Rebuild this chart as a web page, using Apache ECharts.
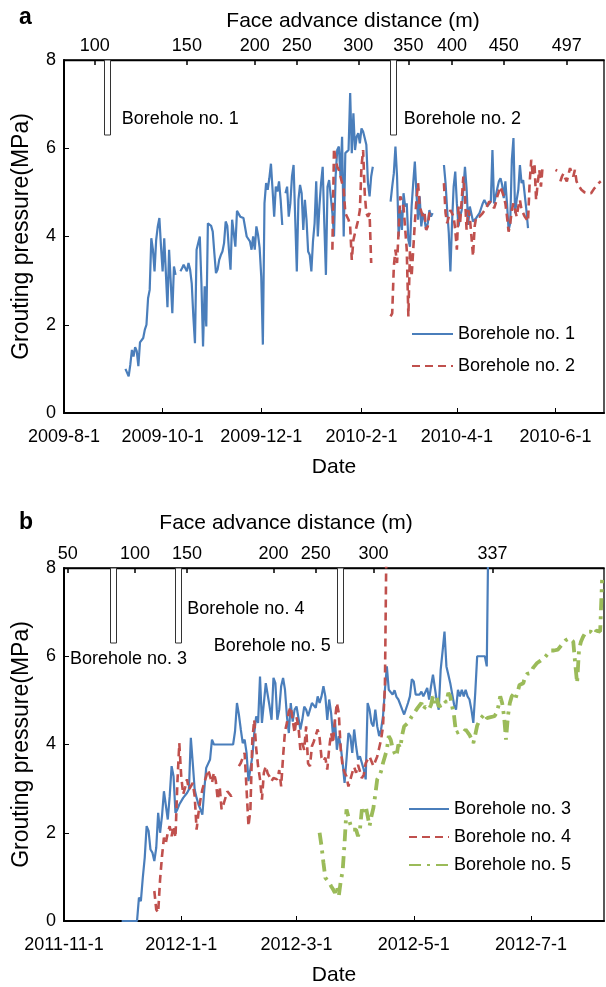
<!DOCTYPE html>
<html><head><meta charset="utf-8">
<script src="https://cdn.jsdelivr.net/npm/echarts@6/dist/echarts.min.js"></script>
<style>html,body{margin:0;padding:0;background:#fff}#c{width:606px;height:987px}</style>
</head><body><div id="c"></div><script>
// ---------------- DATA ----------------
// Panel a
const rangeA = ['2009-08-01', '2010-07-01'];
const dateTicksA = ['2009-08-01','2009-10-01','2009-12-01','2010-02-01','2010-04-01','2010-06-01'];
const faceLabelsA = ['100','150','200','250','300','350','400','450','497'];
const faceDatesA = ['2009-08-20','2009-10-16','2009-11-27','2009-12-23','2010-01-30','2010-03-02','2010-03-29','2010-04-30','2010-06-08'];
const boreholeNamesA = ['Borehole no. 1','Borehole no. 2'];
const boreholeDatesA = ['2009-08-28','2010-02-21'];

const b1Start = '2009-09-08';
const b1Values = [1.00,1.00,0.83,1.09,1.43,1.28,1.49,1.40,1.06,1.60,
1.60,1.70,1.89,2.00,2.60,2.79,3.96,3.70,3.21,3.92,
4.23,4.42,3.77,3.21,3.96,3.98,2.40,3.70,3.70,2.26,
3.32,3.13,null,null,3.21,3.28,3.36,3.40,3.21,3.40,
3.25,2.94,2.19,1.58,3.70,3.85,4.00,2.94,1.51,2.87,
1.96,4.30,4.28,4.24,4.11,3.62,3.17,3.25,3.47,3.58,
3.66,3.85,4.34,4.24,3.70,3.25,4.38,4.42,3.77,4.58,
4.58,4.45,4.42,4.42,4.38,4.00,4.00,3.89,3.70,4.00,
3.70,4.23,4.04,3.74,3.09,1.55,4.75,5.21,5.06,5.32,
5.65,5.06,4.45,5.13,5.02,5.25,4.83,4.26,null,4.98,
5.13,4.45,4.75,5.36,5.62,5.62,3.21,4.83,5.17,4.98,
4.15,4.83,4.38,3.66,3.58,3.21,3.89,4.30,5.25,4.00,
4.70,5.21,5.58,4.30,3.13,5.13,5.28,4.91,4.53,4.00,
5.36,5.96,6.04,5.36,6.26,4.00,5.89,5.92,5.96,7.25,
5.89,6.79,5.96,6.26,6.34,6.11,6.45,6.38,6.23,6.08,
5.21,4.91,5.36,5.58,null,null,null,null,null,null,
null,null,null,null,4.79,5.13,5.43,6.04,5.36,4.00,
4.60,4.15,4.98,4.68,4.75,3.92,3.77,4.68,5.21,5.70,
4.98,4.38,4.91,4.23,4.53,4.38,4.15,4.30,4.60,4.45,
4.53,null,null,null,null,null,null,5.62,5.21,4.60,
4.08,3.21,4.30,5.13,5.47,4.75,4.23,4.45,4.60,5.06,
5.58,5.09,4.26,4.68,4.68,4.34,4.36,4.42,4.45,4.53,
4.64,4.75,4.83,4.75,4.69,4.68,4.79,5.96,4.75,4.91,
5.09,5.25,5.32,5.17,4.87,5.25,4.75,4.15,4.30,5.74,
6.23,4.53,4.83,5.06,5.62,5.21,5.28,5.25,4.60,4.19];

const b2Start = '2010-01-14';
const b2Values = [3.70,6.00,5.74,5.58,5.51,5.36,5.36,5.06,4.53,4.49,
4.38,4.23,3.47,3.92,4.08,4.23,4.38,4.60,5.58,5.96,
4.98,4.53,4.45,4.53,3.40,null,null,null,null,null,
null,null,null,null,null,null,2.19,2.26,3.32,3.70,
3.40,4.15,4.91,4.91,4.68,4.68,3.70,2.19,3.70,3.09,
3.70,4.30,4.83,5.21,4.68,4.68,4.45,4.53,4.15,4.23,
4.53,4.57,4.53,null,null,null,null,null,null,5.21,
4.53,4.30,4.45,4.60,4.60,4.45,4.15,3.70,4.68,4.30,
4.30,5.36,4.91,4.15,4.60,4.45,4.00,3.55,4.23,4.45,
4.45,4.45,4.49,4.53,4.57,4.64,4.68,4.79,4.83,4.75,
4.64,4.75,4.91,5.02,5.13,5.09,4.91,4.75,4.45,4.11,
4.30,4.60,4.75,4.60,4.45,4.68,4.83,4.60,4.53,4.45,
4.42,4.34,5.21,5.74,5.36,5.66,4.83,5.21,5.51,5.13,
5.58,null,null,null,null,null,null,null,5.51,5.49,
null,5.25,5.36,5.43,5.32,5.25,5.40,5.55,5.58,5.36,
5.51,5.25,5.17,5.13,5.06,5.02,5.00,4.98,4.98,5.00,
4.98,5.02,5.09,5.13,5.17,5.22,5.25];

// Panel b
const rangeB = ['2011-11-01', '2012-08-08'];
const dateTicksB = ['2011-11-01','2012-01-01','2012-03-01','2012-05-01','2012-07-01'];
const faceLabelsB = ['50','100','150','200','250','300','337'];
const faceDatesB = ['2011-11-03','2011-12-08','2012-01-04','2012-02-18','2012-03-11','2012-04-10','2012-06-11'];
const boreholeNamesB = ['Borehole no. 3','Borehole no. 4','Borehole no. 5'];
const boreholeDatesB = ['2011-11-27','2011-12-31','2012-03-24'];

const b3Start = '2011-12-01';
const b3Values = [0,0,0,0,0,0,0,0,0,
0.53,0.45,0.98,1.43,2.15,2.04,1.62,1.55,1.36,1.66,
2.45,2.00,2.38,2.94,2.90,2.30,2.83,3.51,3.28,2.45,
2.53,2.64,2.68,2.79,2.79,2.90,2.98,4.15,3.58,2.98,
2.79,2.64,2.53,2.41,2.98,3.47,3.51,3.66,4.11,4.00,
4.00,4.00,4.00,4.00,4.00,4.00,4.00,4.00,4.00,4.00,
4.30,4.94,4.68,4.34,4.03,4.11,3.81,3.17,3.21,3.73,
4.26,4.64,4.49,5.54,4.49,4.94,5.39,5.39,4.86,4.56,
5.51,5.39,4.56,4.79,5.32,5.51,5.24,4.64,4.26,4.94,
4.52,4.79,4.86,4.90,4.34,4.56,4.86,4.79,4.64,4.79,
4.94,4.98,4.83,5.09,4.94,5.09,5.32,5.09,4.56,5.02,
4.71,4.19,4.56,3.88,4.19,3.96,3.58,3.13,3.66,4.26,
4.19,3.81,4.34,3.96,3.66,3.73,3.58,3.43,3.21,4.94,
4.79,4.49,4.41,4.79,4.41,4.19,4.34,4.64,5.24,5.77,
5.24,5.28,5.13,5.23,5.08,5.02,4.98,4.79,4.68,4.71,
4.94,5.09,5.48,5.43,5.13,5.17,5.13,5.20,5.09,5.05,
5.28,5.02,5.32,5.58,5.28,4.98,4.79,5.69,6.11,6.56,
5.77,5.58,5.39,5.35,4.90,4.79,5.24,5.09,5.24,5.09,
5.24,5.09,5.02,4.79,4.49,5.17,6.00,6.00,6.00,6.00,
6.00,5.77,9.50];

const b4Start = '2011-12-18';
const b4Values = [0.68,0.26,0.19,0.94,1.47,1.89,1.77,2.00,2.15,1.92,
2.15,1.89,3.13,4.03,3.28,2.87,3.02,3.21,2.98,3.05,
3.13,2.83,2.07,2.45,2.75,2.98,3.13,3.28,3.43,3.39,
3.13,3.36,3.17,2.75,3.05,2.53,2.64,2.68,2.94,2.90,
2.83,2.87,null,null,3.51,3.58,3.70,3.81,2.98,2.15,
2.53,4.11,4.56,3.92,3.51,3.21,2.75,3.36,3.51,3.34,
3.27,3.17,3.24,3.27,3.21,3.42,3.05,3.73,4.30,4.49,
4.75,4.85,4.56,4.26,4.62,4.41,3.88,4.03,3.88,4.41,
3.57,3.51,3.96,4.07,4.11,4.34,4.15,3.70,3.62,3.70,
3.43,3.92,4.26,4.03,4.56,4.94,4.71,3.88,3.51,3.36,
3.28,3.05,3.09,3.36,3.49,3.36,3.54,3.58,3.24,3.32,
3.58,3.66,3.73,3.77,3.51,3.62,3.73,3.92,4.11,4.41,
5.32,9.50];

const b5Start = '2012-03-13';
const b5Values = [2.00,1.70,1.32,0.98,0.94,0.87,0.79,0.72,0.64,0.79,
0.57,0.90,1.13,1.77,2.53,2.56,2.19,2.07,2.11,2.07,
1.92,2.07,2.53,2.41,2.60,2.38,2.15,2.38,2.56,2.87,
3.21,3.28,3.39,3.58,3.73,3.88,4.19,4.11,3.92,3.81,
3.73,4.00,3.92,4.22,4.41,4.37,4.49,4.56,4.64,4.70,
4.68,4.83,4.86,4.94,4.79,4.86,4.85,4.80,4.90,5.09,
4.94,5.09,4.86,4.83,4.90,5.00,4.95,5.17,5.09,5.08,
4.64,4.26,4.26,4.30,4.34,4.28,4.34,4.30,4.22,4.13,
4.03,4.22,4.43,4.52,4.60,4.64,4.70,4.60,4.56,4.62,
4.58,4.64,4.71,4.86,5.09,4.94,4.64,4.11,4.64,4.94,
5.09,5.15,5.05,5.18,5.35,5.33,5.39,5.54,5.60,5.56,
5.62,5.73,5.71,5.84,5.82,5.90,5.88,5.96,6.00,6.07,
6.13,6.09,6.13,6.11,6.15,6.15,6.26,6.31,6.36,6.36,
6.41,6.39,6.33,5.84,5.39,6.15,6.33,6.43,6.51,6.56,
6.52,6.56,6.58,6.49,6.58,6.56,6.56,7.73];

const pressureTicks = [0, 8, 2]; // min, max, step
const boreholeMarkerRange = [8, 6.3];

// ---------------- HELPERS ----------------
const FONT = '"Liberation Sans", Arial, Helvetica, sans-serif';
function ts(s){const [y,m,d]=s.split('-').map(Number);return new Date(y,m-1,d).getTime();}
function daily(start, vals){const [y,m,d]=start.split('-').map(Number);
  return vals.map((v,i)=>[new Date(y,m-1,d+i).getTime(), v==null?'-':v]);}
function ymd(v){const d=new Date(v);return d.getFullYear()+'-'+(d.getMonth()+1)+'-'+d.getDate();}

// label placement styles for borehole markers (offsets in px)
const labelStyleA = [{dx:14,dy:-16,align:'left'},{dx:10,dy:-16,align:'left'}];
const labelStyleB = [{dx:-44,dy:16,align:'left'},{dx:8,dy:-34,align:'left'},{dx:-10,dy:3,align:'right'}];

function bottomAxis(grid, range, ticks){
  const vals = ticks.map(ts);
  return {type:'value', gridIndex:grid, position:'bottom', min:ts(range[0]), max:ts(range[1]), scale:true,
    axisLine:{show:true,onZero:false,lineStyle:{color:'#000',width:2}},
    axisTick:{show:true,inside:true,length:5,customValues:vals,lineStyle:{color:'#000',width:1}},
    axisLabel:{customValues:vals,formatter:(v)=>ymd(v),color:'#000',fontSize:18,fontFamily:FONT,margin:15,hideOverlap:false,showMinLabel:true,showMaxLabel:true},
    splitLine:{show:false},
    name:'Date', nameLocation:'middle', nameGap:44,
    nameTextStyle:{color:'#000',fontSize:21,fontFamily:FONT}};
}
function topAxis(grid, range, dates, labels){
  const vals = dates.map(ts);
  const map = {}; vals.forEach((v,i)=>map[v]=labels[i]);
  return {type:'value', gridIndex:grid, position:'top', min:ts(range[0]), max:ts(range[1]), scale:true,
    axisLine:{show:true,onZero:false,lineStyle:{color:'#000',width:1.3}},
    axisTick:{show:true,inside:true,length:5,customValues:vals,lineStyle:{color:'#000',width:1.5}},
    axisLabel:{customValues:vals,formatter:(v)=>map[v]!==undefined?map[v]:'',color:'#000',fontSize:18,fontFamily:FONT,margin:5,hideOverlap:false},
    splitLine:{show:false}};
}
function yAxis(grid){
  return {type:'value', gridIndex:grid, min:pressureTicks[0], max:pressureTicks[1], interval:pressureTicks[2],
    axisLine:{show:true,onZero:false,lineStyle:{color:'#000',width:2}},
    axisTick:{show:true,inside:true,length:5,lineStyle:{color:'#000',width:1}},
    axisLabel:{color:'#000',fontSize:18,fontFamily:FONT,margin:8},
    splitLine:{show:false},
    name:'Grouting pressure(MPa)', nameLocation:'middle', nameGap:31,
    nameTextStyle:{color:'#000',fontSize:23,fontFamily:FONT}};
}
function boreholeSeries(names, dates, styles, xi, yi){
  return {type:'custom', xAxisIndex:xi, yAxisIndex:yi, silent:true, z:5, clip:false,
    data: dates.map(d=>[ts(d), boreholeMarkerRange[0], boreholeMarkerRange[1]]),
    renderItem(params, api){
      const x = api.value(0);
      const p1 = api.coord([x, api.value(1)]);
      const p2 = api.coord([x, api.value(2)]);
      const L = styles[params.dataIndex];
      return {type:'group', children:[
        {type:'rect', shape:{x:Math.round(p1[0])-3.5, y:p1[1], width:6, height:p2[1]-p1[1]},
          style:{fill:'#fff', stroke:'#333', lineWidth:1}},
        {type:'text', x:p1[0]+L.dx, y:p2[1]+L.dy,
          style:{text:names[params.dataIndex], fill:'#000', fontSize:18, fontFamily:FONT, align:L.align, verticalAlign:'middle'}}
      ]};
    }};
}
const BLUE='#4A7EBB', RED='#C0504D', GREEN='#9BBB59';
function lineSeries(name, start, vals, xi, yi, color, width, type){
  return {name, type:'line', xAxisIndex:xi, yAxisIndex:yi, data:daily(start, vals), symbol:'none', showSymbol:false,
    connectNulls:false, clip:true, lineStyle:{color, width, type, cap:'butt'}, itemStyle:{color}, z:3};
}
const legendBase = {orient:'vertical', padding:0, itemHeight:14, selectedMode:false,
  itemStyle:{color:'rgba(0,0,0,0)', borderColor:'rgba(0,0,0,0)', borderWidth:0, opacity:0},
  textStyle:{color:'#000',fontSize:18,fontFamily:FONT}};

const chart = echarts.init(document.getElementById('c'), null, {renderer:'canvas'});
chart.setOption({
  animation:false,
  backgroundColor:'#fff',
  textStyle:{fontFamily:FONT},
  grid:[
    {left:64, top:60, width:540, height:353, show:true, borderColor:'#000', borderWidth:1.3, backgroundColor:'transparent'},
    {left:64, top:568, width:540, height:354, show:true, borderColor:'#000', borderWidth:1.3, backgroundColor:'transparent'}
  ],
  xAxis:[
    bottomAxis(0, rangeA, dateTicksA),
    topAxis(0, rangeA, faceDatesA, faceLabelsA),
    bottomAxis(1, rangeB, dateTicksB),
    topAxis(1, rangeB, faceDatesB, faceLabelsB)
  ],
  yAxis:[yAxis(0), yAxis(1)],
  legend:[
    Object.assign({}, legendBase, {data:['Borehole no. 1','Borehole no. 2'], left:411, top:325, itemWidth:41, itemGap:14}),
    Object.assign({}, legendBase, {data:['Borehole no. 3','Borehole no. 4','Borehole no. 5'], left:408, top:800, itemWidth:40, itemGap:10})
  ],
  graphic:[
    {type:'text', left:19, top:6, style:{text:'a', fontSize:23, fontWeight:'bold', fontFamily:FONT, fill:'#000'}},
    {type:'text', x:353, y:21, style:{text:'Face advance distance (m)', fontSize:21, fontFamily:FONT, fill:'#000', align:'center', verticalAlign:'middle'}},
    {type:'text', left:19, top:511, style:{text:'b', fontSize:23, fontWeight:'bold', fontFamily:FONT, fill:'#000'}},
    {type:'text', x:286, y:523, style:{text:'Face advance distance (m)', fontSize:21, fontFamily:FONT, fill:'#000', align:'center', verticalAlign:'middle'}}
  ],
  series:[
    lineSeries('Borehole no. 1', b1Start, b1Values, 0, 0, BLUE, 2.2, 'solid'),
    lineSeries('Borehole no. 2', b2Start, b2Values, 0, 0, RED, 2.6, [8,5]),
    boreholeSeries(boreholeNamesA, boreholeDatesA, labelStyleA, 0, 0),
    lineSeries('Borehole no. 3', b3Start, b3Values, 2, 1, BLUE, 2.2, 'solid'),
    lineSeries('Borehole no. 4', b4Start, b4Values, 2, 1, RED, 2.6, [8,5]),
    lineSeries('Borehole no. 5', b5Start, b5Values, 2, 1, GREEN, 3.8, [12,6,3,6]),
    boreholeSeries(boreholeNamesB, boreholeDatesB, labelStyleB, 2, 1)
  ]
});
</script></body></html>
